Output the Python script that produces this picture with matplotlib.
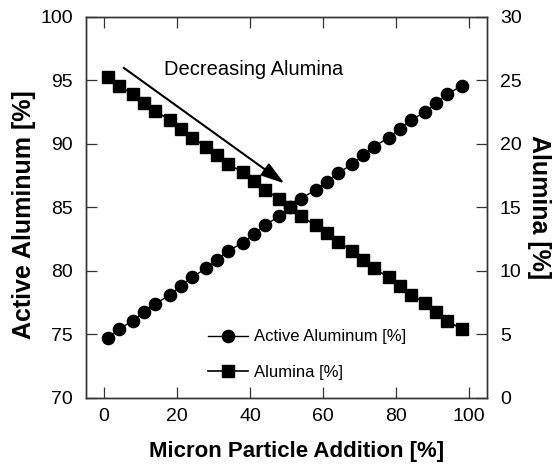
import matplotlib
matplotlib.use("Agg")
import matplotlib.pyplot as plt

plt.rcParams['font.family'] = ['Liberation Sans', 'DejaVu Sans']

# Composition versus micron particle addition
addition = [1, 4, 8, 11, 14, 18, 21, 24, 28, 31, 34, 38, 41, 44, 48,
            51, 54, 58, 61, 64, 68, 71, 74, 78, 81, 84, 88, 91, 94, 98]
active_al = [74.7, 75.4, 76.1, 76.8, 77.4, 78.1, 78.8, 79.5, 80.2, 80.9,
             81.6, 82.2, 82.9, 83.6, 84.3, 85.0, 85.7, 86.4, 87.0, 87.7,
             88.4, 89.1, 89.8, 90.5, 91.2, 91.9, 92.5, 93.2, 93.9, 94.6]
alumina = [25.3, 24.6, 23.9, 23.2, 22.6, 21.9, 21.2, 20.5, 19.8, 19.1,
           18.4, 17.8, 17.1, 16.4, 15.7, 15.0, 14.3, 13.6, 13.0, 12.3,
           11.6, 10.9, 10.2, 9.5, 8.8, 8.1, 7.5, 6.8, 6.1, 5.4]

x_ticks = [0, 20, 40, 60, 80, 100]
left_ticks = [70, 75, 80, 85, 90, 95, 100]
right_ticks = [0, 5, 10, 15, 20, 25, 30]

SPINE = '#333333'

fig = plt.figure(figsize=(5.58, 4.67), dpi=100, facecolor='white')
ax = fig.add_axes([0.1536, 0.1478, 0.7197, 0.8158])
ax2 = ax.twinx()

l1, = ax.plot(addition, active_al, color='black', lw=1.0, marker='o',
              markersize=8.8, markerfacecolor='black', markeredgecolor='black',
              label='Active Aluminum [%]', zorder=3)
l2, = ax2.plot(addition, alumina, color='black', lw=1.2, marker='s',
               markersize=8.6, markerfacecolor='black', markeredgecolor='black',
               label='Alumina [%]', zorder=3)

ax.set_xlim(-5, 105)
ax.set_ylim(70, 100)
ax2.set_ylim(0, 30)
ax.set_xticks(x_ticks)
ax.set_yticks(left_ticks)
ax2.set_yticks(right_ticks)

ax.tick_params(axis='x', direction='in', length=8, width=0.9, color=SPINE,
               labelsize=14, pad=7, top=True)
ax.tick_params(axis='y', direction='in', length=8, width=0.9, color=SPINE,
               labelsize=14, pad=9)
ax2.tick_params(axis='y', direction='in', length=8, width=0.9, color=SPINE,
                labelsize=14, pad=9)

for a in (ax, ax2):
    for s in a.spines.values():
        s.set_color(SPINE)
        s.set_linewidth(1.0)

ax.set_xlabel('Micron Particle Addition [%]', fontsize=16, fontweight='bold')
ax.xaxis.set_label_coords(0.526, -0.112)
ax.set_ylabel('Active Aluminum [%]', fontsize=18, fontweight='bold')
ax.yaxis.set_label_coords(-0.125, 0.48)
ax2.set_ylabel('Alumina [%]', fontsize=18, fontweight='bold', rotation=270,
               va='bottom')
ax2.yaxis.set_label_coords(1.10, 0.5)

# Arrow showing the alumina trend
ax.annotate('', xy=(49.4, 86.9), xytext=(5.4, 96.0),
            arrowprops=dict(arrowstyle='-|>,head_length=0.9,head_width=0.28',
                            color='black', lw=1.5,
                            mutation_scale=16, shrinkA=0, shrinkB=0))
ax.text(16.5, 95.9, 'Decreasing Alumina', fontsize=14.5, ha='left',
        va='center')

leg = ax.legend(handles=[l1, l2], loc='upper left',
                bbox_to_anchor=(0.305, 0.18), frameon=False, fontsize=12,
                handlelength=2.4, handletextpad=0.35, labelspacing=1.25,
                borderpad=0, borderaxespad=0, numpoints=1)

fig.savefig('out.png', dpi=100, facecolor='white')
